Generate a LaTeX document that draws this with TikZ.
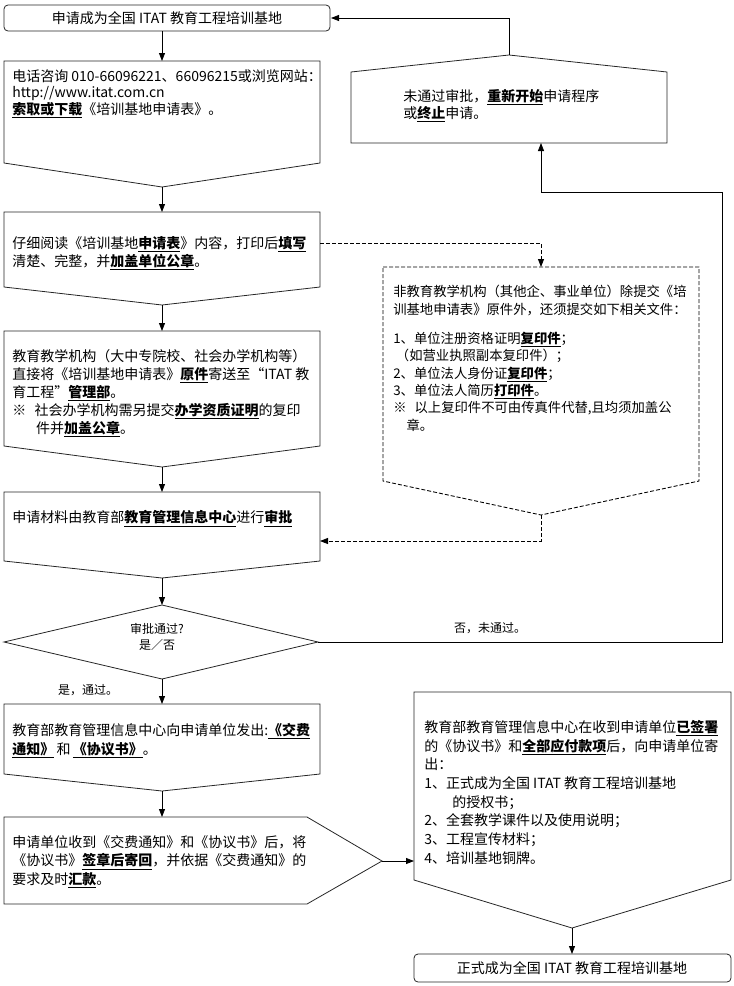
\documentclass[tikz,border=0pt]{standalone}
\usepackage{fontspec}
\setmainfont{Noto Sans CJK SC}
\usetikzlibrary{arrows.meta}
\newcommand{\ub}[1]{\underline{\textbf{#1}}}
\tikzset{
  boxline/.style={draw=black!85, line width=0.6pt},
  dashline/.style={draw=black, line width=0.65pt, dash pattern=on 3pt off 1.5pt},
  arr/.style={-{Triangle[length=6pt,width=4.5pt]}, line width=0.6pt},
  txt/.style={anchor=north west, inner sep=0pt, align=left, font=\fontsize{10.5pt}{13.5pt}\selectfont, execute at begin node=\rule{0pt}{10pt}},
  ctxt/.style={inner sep=0pt, font=\fontsize{10.5pt}{13.5pt}\selectfont},
  lbl/.style={inner sep=0pt, align=center, font=\fontsize{9pt}{12.5pt}\selectfont},
}
\begin{document}
\begin{tikzpicture}[x=0.75pt, y=-0.75pt]
\useasboundingbox (0,0) rectangle (733,986);
\def\xl{4}
\def\xr{320}
\def\xm{162}

\draw[boxline, rounded corners=3] (\xl,5) rectangle (330,31);
\node[ctxt] (start) at (167,18) {申请成为全国 ITAT 教育工程培训基地};
\coordinate (start-s) at (\xm,31);
\coordinate (start-e) at (331,18);

\draw[boxline] (\xl,61) -- (\xr,61) -- (\xr,163) -- (\xm,187) -- (\xl,163) -- cycle;
\coordinate (b2-n) at (\xm,61);
\coordinate (b2-s) at (\xm,187);
\node[txt, font=\fontsize{10.5pt}{12.4pt}\selectfont] (b2) at (12,69) {电话咨询 010-66096221、66096215或浏览网站：\\http://www.itat.com.cn\\\ub{索取或下载}《培训基地申请表》。};

\draw[boxline] (\xl,212) -- (\xr,212) -- (\xr,287) -- (\xm,305) -- (\xl,287) -- cycle;
\coordinate (b3-n) at (\xm,212);
\coordinate (b3-s) at (\xm,305);
\coordinate (b3-e) at (\xr,243);
\node[txt] (b3) at (12,236) {仔细阅读《培训基地\ub{申请表}》内容，打印后\ub{填写}\\清楚、完整，并\ub{加盖单位公章}。};

\draw[boxline] (\xl,331) -- (\xr,331) -- (\xr,446) -- (\xm,467) -- (\xl,446) -- cycle;
\coordinate (b4-n) at (\xm,331);
\coordinate (b4-s) at (\xm,467);
\node[txt] (b4) at (12,349) {教育教学机构（大中专院校、社会办学机构等）\\直接将《培训基地申请表》\ub{原件}寄送至“ITAT 教\\育工程”\ub{管理部}。\\※\hspace{0.6em}社会办学机构需另提交\ub{办学资质证明}的复印\\\hspace*{1.7em}件并\ub{加盖公章}。};

\draw[boxline] (\xl,492) -- (\xr,492) -- (\xr,561) -- (\xm,578) -- (\xl,561) -- cycle;
\coordinate (b5-n) at (\xm,492);
\coordinate (b5-s) at (\xm,578);
\coordinate (b5-e) at (\xr,541);
\node[txt] (b5) at (12,509) {申请材料由教育部\ub{教育管理信息中心}进行\ub{审批}};

\draw[boxline] (\xl,642) -- (\xm,605) -- (318,642) -- (\xm,679) -- cycle;
\coordinate (dia-n) at (\xm,605);
\coordinate (dia-s) at (\xm,679);
\coordinate (dia-e) at (318,642);
\node[lbl] (ask) at (157,637) {审批通过?\\是／否};
\node[lbl] (yes) at (88,690) {是，通过。};
\node[lbl] (no) at (490,628) {否，未通过。};

\draw[boxline] (\xl,704) -- (\xr,704) -- (\xr,774) -- (\xm,791) -- (\xl,774) -- cycle;
\coordinate (b6-n) at (\xm,704);
\coordinate (b6-s) at (\xm,791);
\node[txt, font=\fontsize{10.5pt}{14pt}\selectfont] (b6) at (12,723) {教育部教育管理信息中心向申请单位发出:\ub{《交费}\\\ub{通知》}\,和\,\ub{《协议书》}。};

\draw[boxline] (\xl,817) -- (307,817) -- (382,861) -- (307,904) -- (\xl,904) -- cycle;
\coordinate (b7-n) at (\xm,817);
\coordinate (b7-e) at (382,861);
\node[txt, font=\fontsize{10.5pt}{14pt}\selectfont] (b7) at (12,835) {申请单位收到《交费通知》和《协议书》后，将\\《协议书》\ub{签章后寄回}，并依据《交费通知》的\\要求及时\ub{汇款}。};

\draw[dashline] (383,267) -- (699,267) -- (699,481) -- (541,515) -- (383,481) -- cycle;
\coordinate (nb-n) at (541,267);
\coordinate (nb-s) at (541,515);
\node[txt, font=\fontsize{10pt}{13pt}\selectfont] (nb) at (393,285) {非教育教学机构（其他企、事业单位）除提交《培\\训基地申请表》原件外，还须提交如下相关文件：\\[9pt]1、单位注册资格证明\ub{复印件}；\\\hspace*{0.2em}（如营业执照副本复印件）；\\2、单位法人身份证\ub{复印件}；\\3、单位法人简历\ub{打印件}。\\※\hspace{0.6em}以上复印件不可由传真件代替,且均须加盖公\\\hspace*{1em}章。};

\draw[boxline] (351,72) -- (509,55) -- (667,72) -- (667,143) -- (351,143) -- cycle;
\coordinate (fail-n) at (509,55);
\coordinate (fail-s) at (541,143);
\node[txt, font=\fontsize{10.5pt}{12.75pt}\selectfont] (fail) at (403,89) {未通过审批，\ub{重新开始}申请程序\\或\ub{终止}申请。};

\draw[boxline] (414,692) -- (731,692) -- (731,880) -- (572,928) -- (414,880) -- cycle;
\coordinate (b8-w) at (414,861);
\coordinate (b8-s) at (572,928);
\node[txt, font=\fontsize{10.5pt}{14pt}\selectfont] (b8) at (424,720) {教育部教育管理信息中心在收到申请单位\ub{已签署}\\的《协议书》和\ub{全部应付款项}后，向申请单位寄\\出：\\1、正式成为全国 ITAT 教育工程培训基地\\\hspace*{2em}的授权书；\\2、全套教学课件以及使用说明；\\3、工程宣传材料；\\4、培训基地铜牌。};

\draw[boxline, rounded corners=3] (414,954) rectangle (731,982);
\node[ctxt] (done) at (572,968) {正式成为全国 ITAT 教育工程培训基地};
\coordinate (done-n) at (572,954);

\coordinate (turn) at (722,192);

\draw[arr] (start-s) -- (b2-n);
\draw[arr] (b2-s) -- (b3-n);
\draw[arr] (b3-s) -- (b4-n);
\draw[arr] (b4-s) -- (b5-n);
\draw[arr] (b5-s) -- (dia-n);
\draw[arr] (dia-s) -- (b6-n);
\draw[arr] (b6-s) -- (b7-n);
\draw[arr] (b7-e) -- (b8-w);
\draw[arr] (b8-s) -- (done-n);
\draw[arr, dashline] (b3-e) -| (nb-n);
\draw[arr, dashline] (nb-s) |- (b5-e);
\draw[arr] (dia-e) -| (turn) -| (fail-s);
\draw[arr] (fail-n) |- (start-e);

\end{tikzpicture}
\end{document}
